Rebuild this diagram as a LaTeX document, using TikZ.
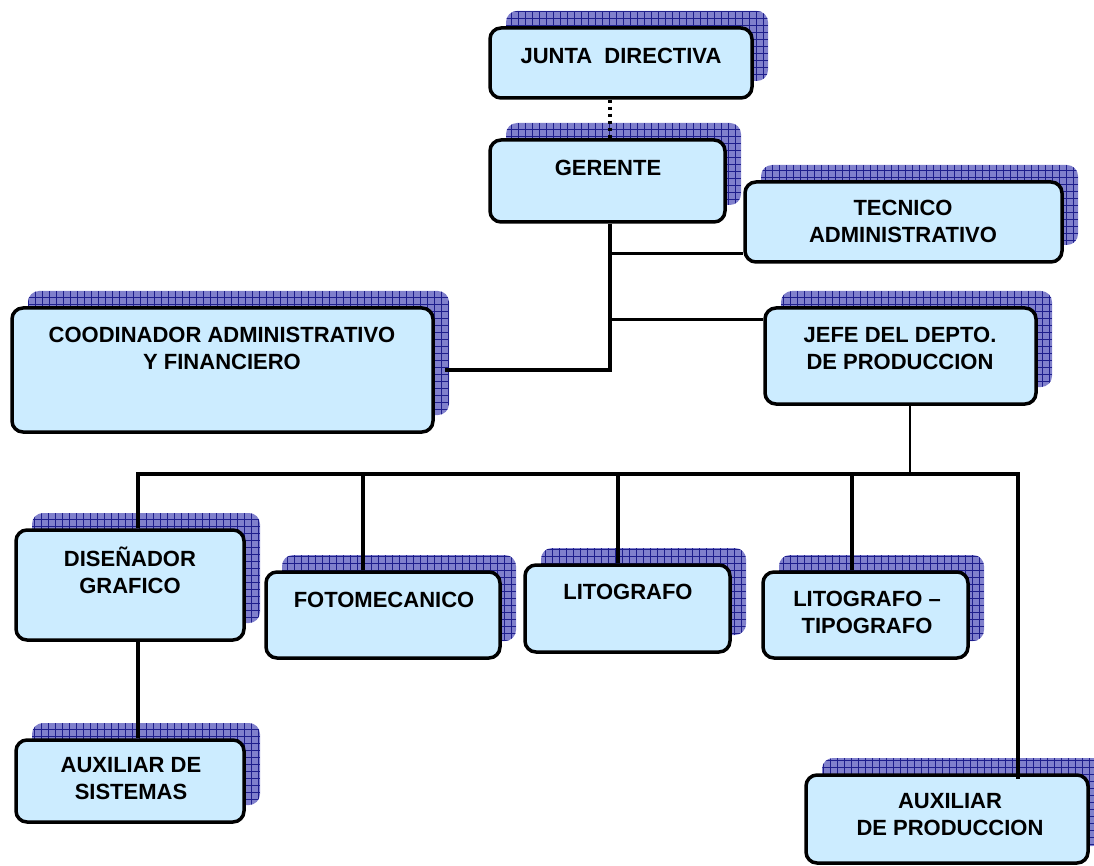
\documentclass[tikz,border=0pt]{standalone}
\usepackage{fontspec}
\setmainfont{Liberation Sans}
\usetikzlibrary{calc}

\definecolor{boxblue}{RGB}{204,236,255}
\definecolor{shadefill}{RGB}{128,128,204}
\definecolor{shadegrid}{RGB}{30,30,140}

\tikzset{
  orgbox/.style={draw=black, line width=3.5pt, fill=boxblue, rounded corners=11pt,
                 inner sep=0pt},
  orgshade/.style={fill=shadefill, rounded corners=11pt, inner sep=0pt,
    path picture={\draw[shadegrid, line width=0.7pt, step=7pt]
      (path picture bounding box.south west) grid (path picture bounding box.north east);}},
  lbl/.style={font=\bfseries\fontsize{22}{27}\selectfont, align=center, inner sep=0pt},
  trunk/.style={line width=3.5pt},
  branch/.style={line width=2.6pt},
  thinline/.style={line width=1.3pt},
  dotline/.style={line width=3.5pt, dash pattern=on 3.5pt off 3.5pt}
}

% \orgunit{name}{cx}{cy}{width}{height}{text x}{text y}{text}
\newcommand{\orgunit}[8]{%
  \node[orgshade, minimum width=#4pt, minimum height=#5pt] (#1-sh) at ($(#2,#3)+(16,-17)$) {};
  \node[orgbox, minimum width=#4pt, minimum height=#5pt] (#1) at (#2,#3) {};
  \node[lbl] (#1-t) at (#6,#7) {#8};
}

\begin{document}
\begin{tikzpicture}[x=1pt, y=-1pt]
\useasboundingbox (0,0) rectangle (1094,866);

% units of the organisation
\orgunit{jd}{621}{63}{262}{70}{621}{56}{JUNTA\ \ DIRECTIVA}
\orgunit{ger}{607.5}{181}{235}{82}{608}{168}{GERENTE}
\orgunit{tec}{903.5}{222}{317}{80}{903}{221}{TECNICO\\ADMINISTRATIVO}
\orgunit{coo}{222.5}{370}{421}{124}{222}{348}{COODINADOR ADMINISTRATIVO\\Y FINANCIERO}
\orgunit{jefe}{900.5}{356}{271}{96}{900}{348}{JEFE DEL DEPTO.\\DE PRODUCCION}
\orgunit{dis}{130}{585}{228}{110}{130}{570}{DISEÑADOR\\GRAFICO}
\orgunit{foto}{383}{615}{234}{86}{384}{600}{FOTOMECANICO}
\orgunit{lito}{627.5}{608.5}{205}{87}{628}{592}{LITOGRAFO}
\orgunit{tipo}{865.5}{615}{205}{86}{867}{612}{LITOGRAFO --\\TIPOGRAFO}
\orgunit{auxs}{130}{781}{228}{82}{131}{779}{AUXILIAR DE\\SISTEMAS}
\orgunit{auxp}{947}{819}{282}{88}{950}{815}{AUXILIAR\\DE PRODUCCION}

% reporting lines
\coordinate (trk) at (610,0);
\draw[dotline] (trk |- jd.south) -- (trk |- ger.north);
\draw[trunk] (trk |- ger.south) -- (trk |- coo.east) -- ($(coo.east)+(10,0)$);
\draw[branch] ($(trk |- tec.south west)+(0,-10)$) -- ($(tec.south west)+(0,-10)$);
\draw[branch] ($(trk |- jefe.north west)+(0,13)$) -- ($(jefe.north west)+(0,13)$);

% production department bus
\coordinate (b1) at (138,474);
\coordinate (b2) at (363,474);
\coordinate (b3) at (618,474);
\coordinate (b4) at (852,474);
\coordinate (b5) at (1018,474);
\coordinate (jtap) at (910,474);
\draw[thinline] (jtap |- jefe.south) -- (jtap);
\draw[trunk] (b1 |- dis.north) -- (b1) -- (b5) -- ($(b5 |- auxp.north)+(0,6)$);
\draw[trunk] (b2) -- (b2 |- foto.north);
\draw[trunk] (b3) -- (b3 |- lito.north);
\draw[trunk] (b4) -- (b4 |- tipo.north);
\draw[trunk] (b1 |- dis.south) -- (b1 |- auxs.north);
\end{tikzpicture}
\end{document}
